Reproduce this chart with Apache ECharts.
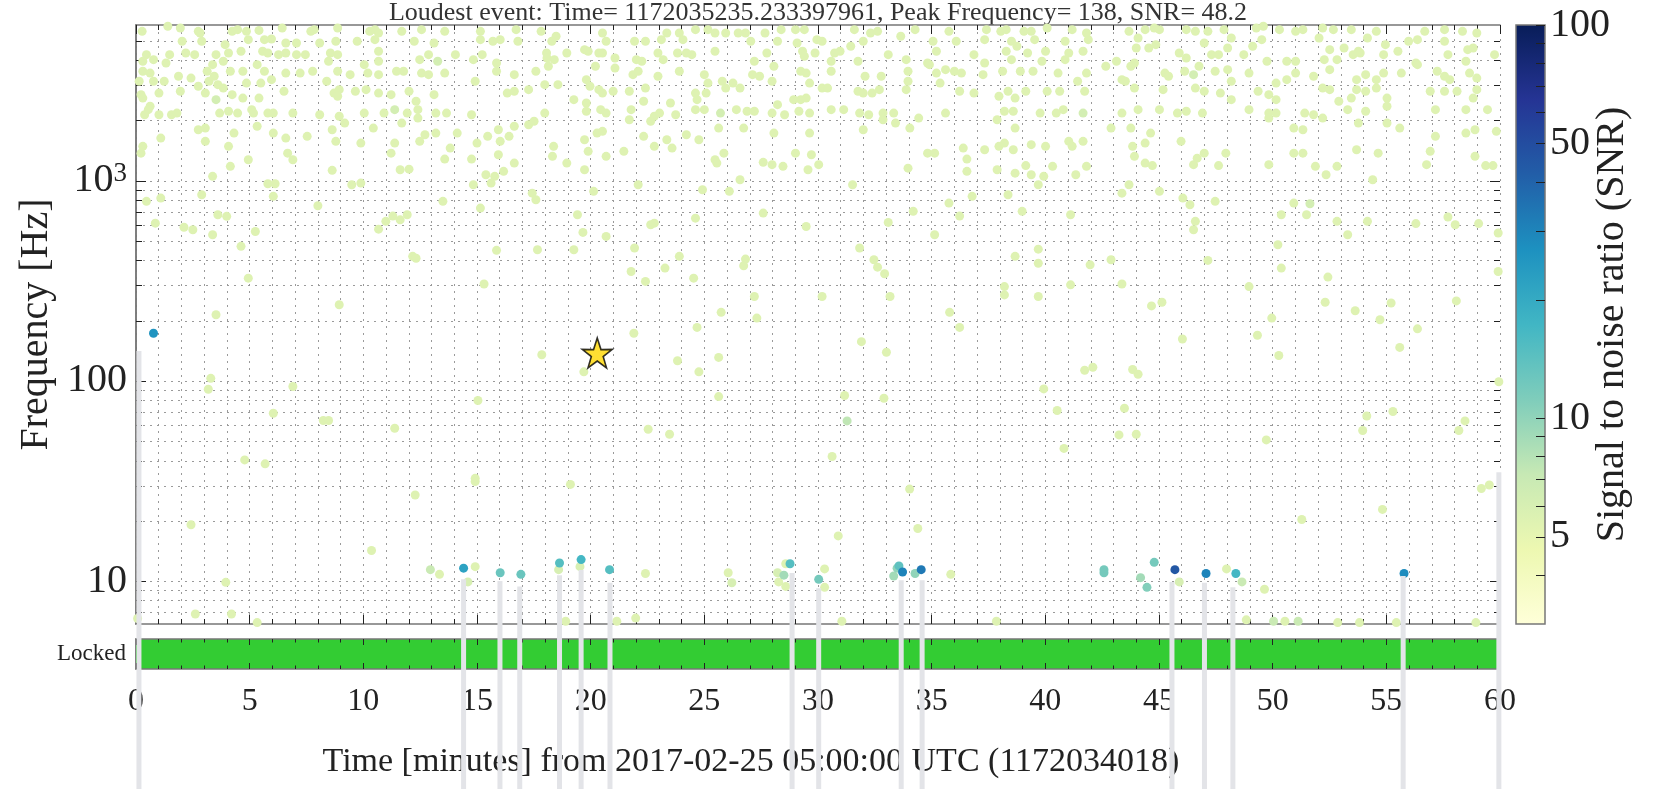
<!DOCTYPE html>
<html>
<head>
<meta charset="utf-8">
<title>Omicron triggers</title>
<script src="https://cdn.jsdelivr.net/npm/echarts@6/dist/echarts.min.js"></script>
<style>
  html, body { margin: 0; padding: 0; background: #fff; }
  #chart { width: 1662px; height: 789px; }
</style>
</head>
<body>
<div id="chart"></div>
<script>
// ---- values ----
const START_LABEL = 'Time [minutes] from 2017-02-25 05:00:00 UTC (1172034018)';
const LOUDEST = { gps: '1172035235.233397961', minutes: 20.29, freq: 138, snr: 48.2 };
const QUIET_SNR = 5.5; // the pale triggers all read as the same colour

// [minutes, peak frequency Hz, snr?]
const highBandTriggers = [
  [0.27,5580],[1.40,5916],[1.95,5797],[2.74,5580],[2.82,5470],[4.23,5580],[4.47,5686],[4.86,5580],[5.41,5640],[6.43,5797],[7.69,5580],[7.84,5686],[8.87,5797],[10.28,5580],[10.51,5686],[10.67,5470],[11.69,5580],[12.56,5686],[13.58,5580],[15.15,5580],[16.72,5686],[17.82,5580],
  [2.03,4977],[2.89,4977],[3.92,4786],[4.94,5070],[5.65,5070],[5.96,5105],[6.59,4876],[7.06,4876],[8.08,4876],[8.79,4977],[9.73,4977],[10.51,5070],[12.24,4977],[13.11,4876],[15.15,5070],[15.70,4977],[16.02,5070],[16.80,4977],[18.29,4977],
  [0.46,4266],[1.48,4266],[2.19,4345],[2.58,4266],[3.52,4266],[4.07,4345],[4.62,4436],[5.57,4436],[5.80,4345],[6.27,4266],[6.59,4345],[7.06,4266],[7.45,4266],[8.55,4345],[8.87,4266],[10.67,4436],[12.87,4266],[14.05,4266],[15.23,4266],[18.06,4345],
  [0.30,3954],[0.77,4027],[1.32,3873],[3.37,3802],[3.84,3954],[5.33,3802],[8.47,3954],[10.04,3802],[10.67,3954],[12.48,4027],[13.27,3954,6.3],[14.84,4027],[15.86,3873],
  [0.30,3524],[0.62,3451],[1.87,3327],[2.42,3258],[3.13,3524],[3.44,3327],[4.15,3524],[4.70,3524],[5.65,3524],[6.59,3451],[7.22,3451],[7.77,3524],[8.87,3524],[9.42,3388],[10.20,3451],[10.67,3388],[11.46,3524],[11.77,3524],[12.56,3451],[12.87,3388],[13.58,3451],[15.86,3524],[16.64,3388],[17.59,3524],[18.14,3733],
  [0.14,3141],[0.77,3141],[1.24,3141],[2.74,2965],[3.21,3141],[3.60,3020],[3.84,2904],[4.86,3076],[5.49,3076],[5.96,3199],[8.39,3141],[8.94,2851],[9.65,2799],[10.12,2851],[10.67,2742],[12.01,2799],[13.11,2692],[14.92,3141],[16.33,2742],[16.64,2799],[17.27,2851],[17.98,3020],
  [0.22,2692],[0.30,2588],[1.01,2742],[1.95,2799],[3.05,2742],[3.52,2541,6.3],[4.23,2692],[4.70,2588],[5.41,2588],[6.51,2799],[8.71,2742],[8.87,2642],[11.22,2692],[12.32,2495],
  [0.62,2355],[0.54,2265],[0.38,2138],[1.01,2138],[1.56,2138],[1.80,2178],[3.68,2178],[4.07,2223],[4.47,2178],[5.09,2265],[5.17,2178],[5.80,2178],[6.04,2178],[6.90,2178],[8.08,2138],[8.94,2099],[10.04,2178],[10.91,2178],[11.38,2265,6.3],[11.93,2178],[12.40,2265],[13.19,2178],[13.66,2178],[14.76,2138],[17.98,2178],
  [2.74,1799],[3.05,1832],[5.33,1871],[9.18,1941],[10.44,1832],[11.69,1941],[12.40,2056],[15.94,1799],[16.64,1871],[17.27,1905],[17.51,1982],
  [1.09,1633],[3.05,1574],[4.07,1486],[4.31,1730],[6.04,1730],[6.59,1633],[7.53,1667],[8.63,1799],[8.79,1574],[9.89,1542],[11.38,1542],[12.48,1574],[12.71,1698],[13.19,1730],[14.13,1730],[15.00,1542],[15.47,1667],[16.02,1574],[16.41,1667],[18.37,1486],[0.30,1486],[0.22,1374],[4.94,1274],[6.67,1374],[6.90,1274],[11.22,1374],[13.82,1456],[13.58,1283],[14.76,1283],[15.94,1349],[16.64,1225],[4.15,1180],
  [8.63,1127],[11.62,1135],[12.01,1143],[15.39,1072],[15.78,1052],[16.17,1114],[3.37,1052],[5.80,966],[6.12,966],[9.49,955],[9.89,973],[14.84,955],[15.62,973],[17.43,867],
  [0.46,789],[1.09,819],[2.89,851],[6.04,836],[3.60,676],[3.99,664],[8.00,750],[13.50,789],[15.15,730],[17.59,804],[0.85,614],[2.11,586],[2.50,569],[3.37,537],[5.25,558],[10.67,573],[10.99,627],[11.30,666],[11.62,638],[11.93,676],[4.62,470],[12.17,419],[12.32,410],[15.86,449],[17.66,452],[4.94,326],[15.31,305],

  [18.48,5270],[20.52,5470],[20.68,4977],[21.93,4977],[22.41,4977],[23.11,5070],[23.35,5470],[23.90,5470],[24.06,5070],[24.61,5686],[25.16,5686],[25.47,5470],[25.94,5470],[26.49,5470],[26.81,5470],[27.04,4977],[27.67,5470],[28.22,4977],[28.38,5686],[29.01,5686],[29.08,4876],[29.40,5686],[29.95,5070],[30.18,4977],[31.60,5686],[31.99,4977],[32.31,5470],[32.62,5580],[33.64,5270],[34.27,5686],[35.06,4977],[35.76,5580],[36.08,4977],[37.41,5686],[37.33,5070],[38.04,5580],[38.28,5686],[38.51,4977],[39.06,5580],[39.38,5580],[39.53,5070],[40.08,5797],[40.87,4977],[41.18,5686],[41.81,5470],[41.89,5070],
  [18.08,4103],[18.40,4027],[18.95,4345],[19.73,4519],[19.89,4436],[20.36,4345],[20.52,4345],[21.07,4103],[22.01,4027],[22.25,3954],[22.96,4345],[23.19,4027],[23.82,4345],[24.21,4345],[24.45,4266],[25.47,4436],[27.20,3954],[27.75,4345],[28.06,3733],[29.32,4436],[29.40,4188],[29.87,4345],[30.58,3954],[30.73,4345],[30.97,4436],[31.44,4696],[31.76,3954],[33.09,4266],[33.88,4027],[34.82,3873],[35.21,4436],[36.86,4266],[37.33,3873],[38.28,4436],[38.51,4027],[38.75,4696],[39.22,4345],[39.85,3954],[40.01,4436],[40.87,4027],[41.03,4345],[41.66,4436],
  [20.21,3733],[21.07,3656],[21.86,3388],[22.09,3524],[22.96,3327],[23.90,3524],[25.00,3388],[27.12,3388],[27.43,3327],[27.98,3141],[29.24,3524],[29.48,3451],[30.58,3524],[32.07,3327],[32.78,3327],[33.96,3524],[34.90,3802],[35.21,3451],[35.61,3589],[36.00,3524],[36.31,3451],[37.26,3388],[38.12,3524],[38.90,3524],[39.46,3524],[40.56,3451],[41.42,3141],[41.81,3451],[18.56,3020],[19.81,3199],[19.97,2965],[22.41,2904],[25.16,3076],[25.79,3141],[26.26,3076],[26.57,2904],[29.63,3076],[30.18,2904],[30.42,2904],
  [19.26,2541],[19.81,2445],[20.36,2851],[20.52,2742],[20.99,2799],[21.70,2799],[22.33,2495],[23.51,2445],[24.61,2742],[24.68,2541],[25.08,2742],[25.94,2904],[28.22,2399],[28.93,2541],[29.24,2541],[29.48,2588],[31.76,2799],[31.99,2742],[32.38,2742],[32.70,2851],[33.88,2851],[33.96,3141],[35.37,3076],[36.23,2799],[36.86,2742],[37.96,2642],[38.36,2799],[38.67,2588],[39.14,2799],[40.08,2799],[40.63,2799],[41.73,2799],
  [19.81,2223],[20.44,2265],[20.68,2178],[21.78,2265],[22.80,2099],[23.03,2178],[23.74,2138],[24.61,2265],[25.00,2265],[25.71,2178,6.3],[26.41,2265],[26.88,2223],[27.20,2223],[27.98,2178],[28.53,2138],[29.16,2223],[29.63,2178],[30.58,2265],[31.13,2265],[31.83,2178],[32.23,2138],[32.86,2178],[33.33,2178],[35.61,2178],[37.88,2018],[38.20,2223],[38.59,2223],[39.77,2178],[40.48,2178],[40.79,2265],[41.66,2178,6.3],
  [21.70,2018],[22.64,1982],[24.21,1698],[25.63,1832],[26.73,1832],[28.06,1730],[29.63,1730],[31.99,1799],[32.86,2018],[33.41,1941],[34.04,1832],[34.43,2056],[38.67,1832],[41.03,1574],[19.73,1603],[20.28,1730],[20.52,1765],[22.33,1667],[23.35,1603],[24.76,1603],[19.89,1403],[20.68,1324],[21.46,1403],[22.80,1486],[23.58,1456],[25.86,1374],[25.55,1225],[25.47,1274],[29.01,1374],[29.71,1349],[34.82,1374],[35.13,1374],[36.39,1456],[36.55,1283],[37.33,1429],[37.96,1486],[38.20,1542],[38.59,1429],[39.38,1514],[40.01,1486],[41.18,1486],[41.66,1574],
  [18.32,1324],[18.95,1225],[19.73,1135],[27.59,1236],[27.98,1203],[28.46,1180],[29.56,1135],[30.03,1203],[33.96,1156],[36.55,1114],[37.88,1135],[38.67,1091],[39.14,1190],[39.38,1072],[39.93,1052],[40.32,1180],[41.34,1072],[41.81,1180],[22.09,955],[24.92,902],[26.10,885],[26.57,1012],[31.52,955],[36.78,836],[38.36,851],[39.69,955],
  [19.42,676],[20.13,885],[24.61,650],[27.59,689],[29.48,591],[33.09,619],[34.19,703],[35.76,773],[36.23,666],[38.98,703],[41.11,676],[19.66,552],[20.68,527],[22.64,603],[22.80,614],[35.13,537],[19.26,452],[21.93,461],[23.90,419],[26.81,406],[26.73,376],[31.83,461],[32.46,403],[32.62,370],[32.93,343],[21.78,352],[22.41,314],[23.27,366],[24.53,326],[38.67,419],[39.69,455],[39.69,387],[38.20,296],[41.11,302],[41.97,380],[27.20,264],[30.18,264],[33.17,264],[38.20,269],[39.69,264],

  [43.68,5580],[44.08,5165],[44.39,5686],[44.79,5797],[45.02,5686],[46.20,5686],[46.60,5580],[47.15,5580],[47.86,5686],[49.28,5797],[49.59,5916],[50.30,5686],[51.01,5580],[51.33,5686],[52.20,5797],[52.67,5686],[53.46,5686],[54.56,5580],[56.69,5580],[57.56,5686],[58.35,5580],[58.98,5470],
  [44.00,4603],[44.55,4603],[44.86,4786],[46.99,4876],[48.02,4603],[48.18,5165],[49.12,4696],[49.52,5070],[52.04,5165],[52.51,4519],[53.14,4603],[53.77,4436],[54.17,5165],[54.96,4786],[55.98,4977],[56.37,5070],[57.56,4977],[58.58,4519],[58.82,4603],[59.76,4266],
  [43.13,3954],[43.92,3873],[43.76,3733],[45.89,4345],[46.20,4103],[47.31,4266],[47.62,4266],[48.73,4266],[49.75,3954],[50.62,3954],[51.01,3954],[52.27,4027],[52.83,4027],[53.54,4266],[53.85,4345],[54.88,4266],[55.51,4436],[56.30,3873],[57.71,4266],[58.50,3954],
  [42.66,3733],[43.37,3199],[43.52,3141],[45.26,3451],[45.42,3327],[46.13,3524],[46.52,3388,6.3],[46.76,3733],[47.47,3524],[48.02,3589],[48.18,3141],[48.96,3451],[50.15,3076],[50.62,3199],[51.01,3451],[51.80,3327],[52.51,3589],[53.69,3199],[54.09,3388],[54.56,3199],[54.88,3451],[55.66,3451],[56.37,3802],[57.24,3524],[57.56,3327],[57.79,3199],[58.66,3451],[58.98,3258],
  [43.92,2904],[45.18,2851],[46.60,2904],[46.99,2799],[47.70,2742],[48.18,2541],[49.36,2799],[49.83,2692],[50.15,2541],[52.20,2904],[52.51,2851],[52.91,2495],[53.46,2588],[53.69,2851],[54.09,2799],[54.56,2904],[55.03,2588],[56.93,2799],[57.56,2799],[58.11,2799],[58.82,2588],[58.98,2851],
  [43.37,2178],[44.08,2265],[45.02,2265],[45.81,2178],[46.20,2223],[46.91,2178],[48.96,2265],[49.83,2178],[50.15,2178],[51.41,2178],[51.80,2138],[52.20,2056],[53.30,2265],[54.09,2223],[55.03,2355],[57.16,2265],[58.50,2265],[59.45,2265],
  [42.89,1832],[43.76,1832],[44.63,1730],[45.97,1574],[49.83,2056],[50.93,1832],[51.33,1799],[53.77,1941],[55.03,1941],[55.59,1832],[57.16,1667],[58.50,1730],[58.90,1799],[59.84,1765],
  [43.84,1486],[43.92,1324],[44.39,1225],[44.71,1190],[44.39,1542],[46.52,1203],[46.68,1297],[46.99,1374],[47.94,1374],[47.62,1190],[49.83,1203],[50.93,1374],[51.33,1374],[51.88,1180],[52.35,1072],[52.83,1180],[53.69,1429],[54.64,1374],[56.77,1203],[56.93,1403],[58.90,1324],[59.37,1190],[59.69,1190],[54.40,1012],
  [43.37,867],[43.68,955],[45.02,885],[46.05,819],[46.36,759],[47.47,789],[50.93,773],[51.64,767,6.3],[50.38,676],[51.49,676],[52.83,627],[53.30,537],[54.17,627],[56.30,611],[57.71,659],[58.03,603],[59.06,611],[59.92,548],[46.52,569],[46.60,627],[50.23,479],[50.38,366],[52.43,330],[42.89,403],[47.15,400],[43.37,305],[48.96,296],[59.92,352]
];

const lowBandTriggers = [
  [8.94,240],[3.52,214],[17.85,135],[3.29,103],[3.18,90.8],[6.90,93.7],[6.04,68.9],[8.24,63.4],[8.47,63.4],[11.38,58.0],[15.04,79.8],[4.78,40.3],[5.68,38.5],[14.92,32.6],[14.92,31.4],[12.28,26.9],[2.42,19.1],[10.36,14.2],[3.95,9.85],[2.61,6.84],[4.20,6.84],[5.33,6.2],[0.07,6.5],
  [25.74,220],[27.31,206],[21.90,173],[24.68,185],[23.82,126],[25.63,131],[19.70,111],[24.76,111],[31.91,157],[33.01,139],[35.79,220],[36.23,185],[25.63,83.5],[31.17,84.5],[32.90,81.9],[39.93,91.2],[40.52,71.1],[41.73,113],[42.09,117],[22.53,57.3],[23.47,54.1],[31.28,63.1,7.5],[30.62,41.9],[40.82,46.0],[19.11,30.4],[34.03,28.8],[30.89,16.8],[34.39,18.3],[18.90,6.3],[21.15,6.3],[21.98,6.53],[31.05,6.3],[37.85,6.3],
  [44.67,237],[45.13,247],[52.31,247],[53.63,224],[55.21,245],[58.08,251],[49.96,206],[54.72,202],[46.03,162],[49.33,169],[56.37,182],[55.59,147],[50.27,134],[43.84,114],[44.08,108],[59.95,99],[43.48,73],[54.14,66.8],[55.29,70.3],[58.46,63.1],[58.19,56.5],[53.96,56.5],[43.24,53.7],[44.00,54.1],[49.72,50.7],[59.18,29.0],[59.53,30.2],[54.83,22.8],[51.28,20.3],[48.84,6.4],[50.04,6.3,7],[50.54,6.3],[51.12,6.3,7],[52.86,6.2],[53.82,6.2],[55.44,6.2],[58.94,6.2]
];

// the coloured triggers: [minutes, Hz, snr]
const loudTriggers = [
  [0.77,173,26],
  [12.95,11.4,7],[13.35,10.8,5.5],[14.41,11.6,22],[14.92,11.8,5.5],[14.60,9.9,6],[16.02,11.0,13],[16.93,10.8,13],
  [18.63,12.3,15],[18.59,11.4,6],[19.58,12.8,17],[19.53,11.8,6],[20.83,11.4,15],[22.41,10.9,5.5],[26.05,11.0,5.5],[26.21,9.8,6],
  [28.22,11.0,6],[28.50,10.7,9],[28.58,12.2,5.5],[28.77,12.2,15],[28.27,9.9,5.5],[28.58,9.4,5.5],[30.03,10.2,12],[30.29,11.5,5.5],[30.29,9.3,5.5],
  [33.33,10.6,9],[33.48,11.6,10],[33.56,11.9,14],[33.72,11.1,30],[34.27,10.9,10],[34.54,11.4,33],[35.84,10.8,5.5],
  [42.58,11.4,12],[42.58,11.0,12],[44.79,12.4,12],[44.19,10.4,9],[44.47,9.3,11],[45.70,11.4,45],[45.89,9.9,6],[47.07,10.9,30],
  [47.97,11.5,5.5],[48.38,10.9,17],[48.65,9.9,7],[49.64,9.1,5.5],[55.78,10.9,28]
];

const lockedSegments = [[0, 60]];

// pale vertical stripes in the picture: time and the frequency where each starts
const stemTimes = [0.13, 14.41, 16.01, 16.88, 18.63, 19.58, 20.85, 28.86, 30.03, 33.66, 34.58, 45.57, 47.0, 48.25, 55.74, 59.95];
const stemTops  = [141, 10.2, 10.0, 9.4, 10.7, 11.35, 9.8, 10.96, 9.2, 10.1, 10.1, 9.9, 9.8, 9.3, 10.6, 35];

const freqRange = [6.1, 6000];
const yGridValues = [7, 8, 9, 10, 20, 30, 40, 50, 60, 70, 80, 90, 100, 200, 300, 400, 500, 600, 700, 800, 900, 1000, 2000, 3000, 4000, 5000];
const yLabelValues = [10, 100, 1000];
const snrRange = [3, 100];
const cbarTickValues = [4, 5, 6, 7, 8, 9, 10, 20, 30, 40, 50, 60, 70, 80, 90, 100];
const cbarLabelValues = [5, 10, 50, 100];
const YLGNBU = ['#ffffd9', '#edf8b1', '#c7e9b4', '#7fcdbb', '#41b6c4', '#1d91c0', '#225ea8', '#253494', '#081d58'];

const FONT = 'Liberation Serif';
const FRAME = '#777777';
const TICK = '#222222';

// ---- build ----
const triggers = highBandTriggers.concat(lowBandTriggers)
  .map(r => [r[0], r[1], r.length > 2 ? r[2] : QUIET_SNR])
  .concat(loudTriggers)
  .sort((a, b) => a[2] - b[2])
  .map(r => [r[0], r[1], Math.log10(r[2]), r[2]]);

const isDecade = v => Math.abs(Math.log10(v) - Math.round(Math.log10(v))) < 1e-6;

function renderYGrid(params, api) {
  const cs = params.coordSys;
  const v = api.value(1);
  const y = Math.round(api.coord([0, v])[1]) + 0.5;
  const len = isDecade(v) ? 10 : 6;
  const tick = { stroke: TICK, lineWidth: 1 };
  return {
    type: 'group',
    children: [
      { type: 'line', shape: { x1: cs.x, y1: y, x2: cs.x + cs.width, y2: y }, style: { stroke: '#9a9a9a', lineWidth: 1, lineDash: [2, 5] } },
      { type: 'line', shape: { x1: cs.x, y1: y, x2: cs.x + len, y2: y }, style: tick },
      { type: 'line', shape: { x1: cs.x + cs.width - len, y1: y, x2: cs.x + cs.width, y2: y }, style: tick }
    ]
  };
}

function renderStem(params, api) {
  const p = api.coord([api.value(0), api.value(1)]);
  return {
    type: 'rect',
    shape: { x: p[0] - 2.5, y: p[1], width: 5, height: api.getHeight() - p[1] },
    style: { fill: '#e3e4e8' }
  };
}

function renderLocked(params, api) {
  const a = api.coord([api.value(0), api.value(2)]);
  const b = api.coord([api.value(1), api.value(2)]);
  const h = api.size([0, 1])[1];
  return {
    type: 'rect',
    shape: { x: a[0], y: a[1] - h / 2, width: b[0] - a[0], height: h },
    style: { fill: '#33cc33' }
  };
}

function renderColorbar(params, api) {
  const a = api.coord([api.value(0), api.value(2)]);
  const b = api.coord([api.value(1), api.value(3)]);
  const stops = YLGNBU.map((c, i) => ({ offset: i / (YLGNBU.length - 1), color: c }));
  return {
    type: 'rect',
    shape: { x: a[0], y: b[1], width: b[0] - a[0], height: a[1] - b[1] },
    style: { fill: new echarts.graphic.LinearGradient(0, 1, 0, 0, stops), stroke: FRAME, lineWidth: 1.5 }
  };
}

function renderCbarTick(params, api) {
  const v = api.value(1);
  const p = api.coord([1, v]);
  const y = Math.round(p[1]) + 0.5;
  const children = [
    { type: 'line', shape: { x1: p[0] - 9, y1: y, x2: p[0], y2: y }, style: { stroke: TICK, lineWidth: 1 } }
  ];
  if (cbarLabelValues.indexOf(v) >= 0) {
    children.push({
      type: 'text', x: p[0] + 5, y: p[1],
      style: { text: String(v), font: '40px "' + FONT + '"', fill: TICK, align: 'left', verticalAlign: 'middle' }
    });
  }
  return { type: 'group', children };
}

const dotted = { color: '#9a9a9a', width: 1, type: [2, 5] };
const xTimeAxis = (extra) => Object.assign({
  type: 'value', min: 0, max: 60, interval: 5,
  axisLine: { show: true, onZero: false, lineStyle: { color: FRAME, width: 1.5 } },
  axisTick: { show: true, inside: true, length: 9, lineStyle: { color: TICK } },
  minorTick: { show: true, splitNumber: 5, length: 5, lineStyle: { color: TICK } },
  axisLabel: { show: false },
  splitLine: { show: false }
}, extra);

const chart = echarts.init(document.getElementById('chart'));
chart.setOption({
  animation: false,
  backgroundColor: '#ffffff',
  textStyle: { fontFamily: FONT },
  graphic: [
    {
      type: 'text', x: 818, y: 13,
      style: {
        text: 'Loudest event: Time= ' + LOUDEST.gps + ', Peak Frequency= ' + LOUDEST.freq + ', SNR= ' + LOUDEST.snr,
        font: '26px "' + FONT + '"', fill: '#333', align: 'center', verticalAlign: 'middle'
      }
    },
    {
      type: 'text', x: 751, y: 762,
      style: { text: START_LABEL, font: '34px "' + FONT + '"', fill: TICK, align: 'center', verticalAlign: 'middle' }
    }
  ],
  grid: [
    { left: 136, top: 25, width: 1364, height: 599 },
    { left: 136, top: 639, width: 1364, height: 30 },
    { left: 1516, top: 25, width: 29, height: 599 }
  ],
  xAxis: [
    xTimeAxis({ gridIndex: 0, position: 'bottom',
      splitLine: { show: true, lineStyle: dotted },
      minorSplitLine: { show: true, lineStyle: dotted } }),
    xTimeAxis({ gridIndex: 0, position: 'top' }),
    xTimeAxis({ gridIndex: 1, position: 'bottom', z: 5,
      axisTick: { show: true, inside: true, length: 6, lineStyle: { color: TICK } },
      minorTick: { show: true, splitNumber: 5, length: 3.5, lineStyle: { color: TICK } },
      axisLabel: { show: true, fontSize: 32, color: TICK, margin: 17 } }),
    xTimeAxis({ gridIndex: 1, position: 'top', z: 5,
      axisTick: { show: true, inside: true, length: 6, lineStyle: { color: TICK } },
      minorTick: { show: true, splitNumber: 5, length: 3.5, lineStyle: { color: TICK } } }),
    { type: 'value', gridIndex: 2, min: 0, max: 1, show: false }
  ],
  yAxis: [
    { type: 'log', logBase: 10, gridIndex: 0, min: freqRange[0], max: freqRange[1],
      axisLine: { show: true, lineStyle: { color: FRAME, width: 1.5 } },
      axisTick: { show: false }, splitLine: { show: false },
      axisLabel: {
        color: TICK, fontSize: 40, margin: 9,
        formatter: v => {
          if (!isDecade(v)) return '';
          const e = Math.round(Math.log10(v));
          if (yLabelValues.indexOf(Math.pow(10, e)) < 0) return '';
          return e >= 3 ? '{b|10}{s|' + e + '}' : String(Math.pow(10, e));
        },
        rich: { b: { fontSize: 40, color: TICK, fontFamily: FONT }, s: { fontSize: 27, color: TICK, fontFamily: FONT, verticalAlign: 'top' } }
      },
      name: 'Frequency [Hz]', nameLocation: 'middle', nameRotate: 90, nameGap: 78,
      nameTextStyle: { fontSize: 40, color: TICK } },
    { type: 'log', logBase: 10, gridIndex: 0, position: 'right', min: freqRange[0], max: freqRange[1],
      axisLine: { show: true, lineStyle: { color: FRAME, width: 1.5 } },
      axisTick: { show: false }, axisLabel: { show: false }, splitLine: { show: false } },
    { type: 'category', gridIndex: 1, data: ['Locked'],
      axisLine: { show: true, lineStyle: { color: FRAME, width: 1.5 } },
      axisTick: { show: false }, axisLabel: { fontSize: 23, color: TICK, margin: 10 } },
    { type: 'category', gridIndex: 1, position: 'right', data: ['Locked'],
      axisLine: { show: true, lineStyle: { color: FRAME, width: 1.5 } },
      axisTick: { show: false }, axisLabel: { show: false } },
    { type: 'log', logBase: 10, gridIndex: 2, position: 'right', min: snrRange[0], max: snrRange[1],
      axisLine: { show: false }, axisTick: { show: false }, axisLabel: { show: false }, splitLine: { show: false },
      name: 'Signal to noise ratio (SNR)', nameLocation: 'middle', nameRotate: 90, nameGap: 47,
      nameTextStyle: { fontSize: 40, color: TICK } }
  ],
  visualMap: {
    type: 'continuous', show: false, seriesIndex: 1, dimension: 2,
    min: Math.log10(snrRange[0]), max: Math.log10(snrRange[1]),
    inRange: { color: YLGNBU }
  },
  series: [
    { type: 'custom', name: 'ygrid', xAxisIndex: 0, yAxisIndex: 0, z: 1, silent: true,
      renderItem: renderYGrid, data: yGridValues.map(v => [0, v]) },
    { type: 'scatter', name: 'triggers', xAxisIndex: 0, yAxisIndex: 0, z: 3,
      symbolSize: 9, itemStyle: { opacity: 1 }, data: triggers },
    { type: 'scatter', name: 'loudest', xAxisIndex: 0, yAxisIndex: 0, z: 4,
      symbol: 'path://M50,0 L61.8,35.3 L97.6,34.5 L68.8,56.2 L79.4,90.5 L50,70 L20.6,90.5 L31.2,56.2 L2.4,34.5 L38.2,35.3 Z',
      symbolSize: 30, itemStyle: { color: '#ffd700', borderColor: '#000', borderWidth: 1.6 },
      data: [[LOUDEST.minutes, LOUDEST.freq]] },
    { type: 'custom', name: 'locked', xAxisIndex: 2, yAxisIndex: 2, z: 1, silent: true,
      renderItem: renderLocked, encode: { x: [0, 1], y: 2 },
      data: lockedSegments.map(s => [s[0], s[1], 0]) },
    { type: 'custom', name: 'colorbar', xAxisIndex: 4, yAxisIndex: 4, silent: true,
      renderItem: renderColorbar, encode: { x: [0, 1], y: [2, 3] },
      data: [[0, 1, snrRange[0], snrRange[1]]] },
    { type: 'custom', name: 'cbarTicks', xAxisIndex: 4, yAxisIndex: 4, z: 3, silent: true,
      renderItem: renderCbarTick, data: cbarTickValues.map(v => [1, v]) },
    { type: 'custom', name: 'stems', xAxisIndex: 0, yAxisIndex: 0, z: 20, silent: true, clip: false,
      renderItem: renderStem, data: stemTimes.map((t, i) => [t, stemTops[i]]) }
  ]
});
</script>
</body>
</html>
